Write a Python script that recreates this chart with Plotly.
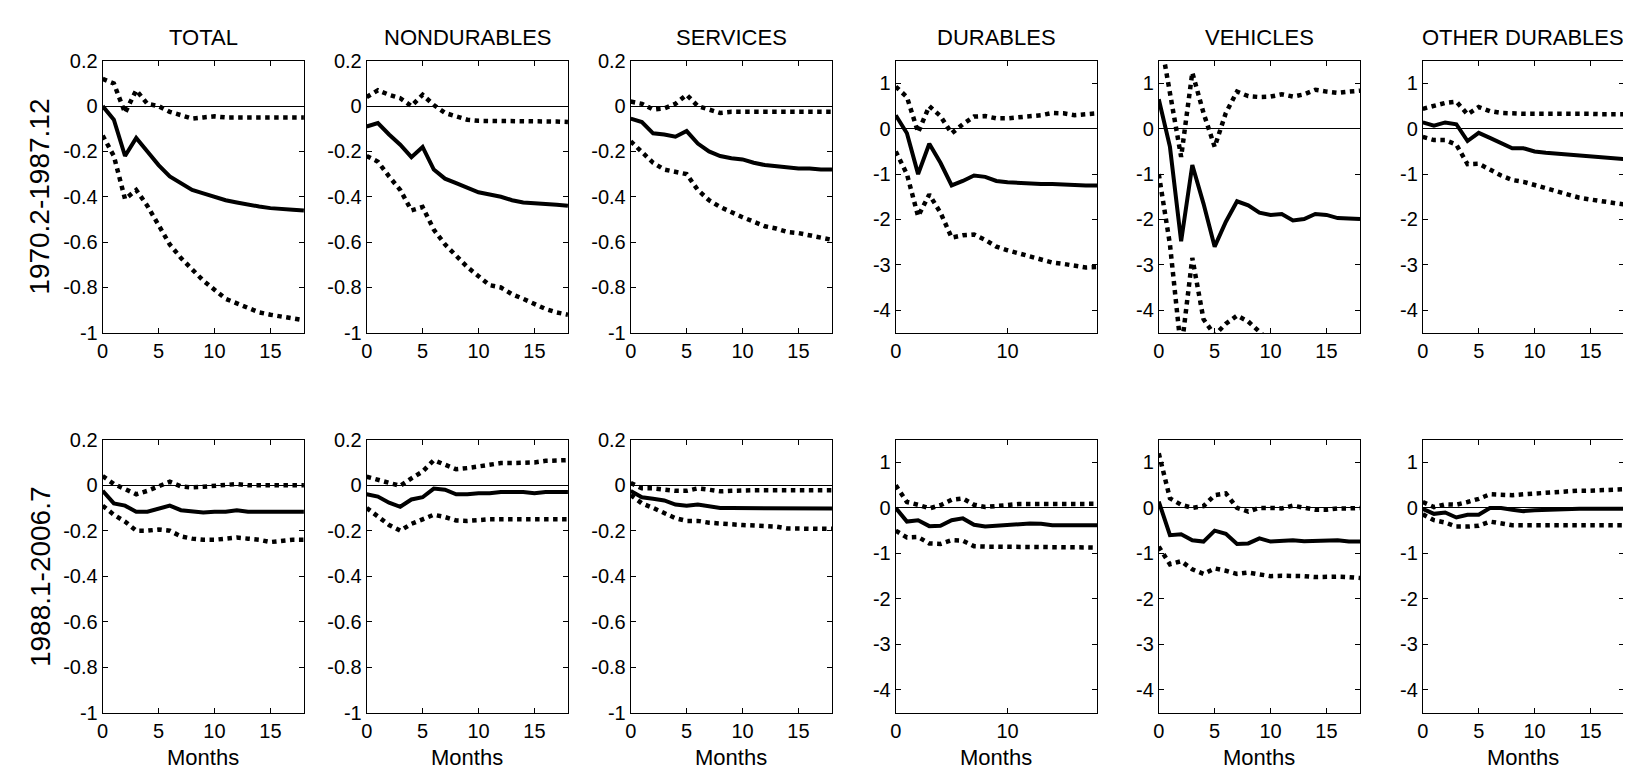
import plotly.graph_objects as go

months = [0, 1, 2, 3, 4, 5, 6, 7, 8, 9, 10, 11, 12, 13, 14, 15, 16, 17, 18]

titles = ["TOTAL", "NONDURABLES", "SERVICES", "DURABLES", "VEHICLES", "OTHER DURABLES"]
periods = ["1970.2-1987.12", "1988.1-2006.7"]

# ---- 1970.2-1987.12 ----
total_a = [0.0, -0.06, -0.22, -0.14, -0.2, -0.26, -0.31, -0.34, -0.37, -0.385, -0.4, -0.415, -0.425, -0.435, -0.443, -0.45, -0.455, -0.457, -0.46]
total_a_hi = [0.12, 0.1, -0.03, 0.07, 0.01, 0.0, -0.025, -0.04, -0.055, -0.05, -0.045, -0.05, -0.05, -0.05, -0.05, -0.05, -0.05, -0.05, -0.05]
total_a_lo = [-0.13, -0.22, -0.41, -0.37, -0.44, -0.53, -0.61, -0.67, -0.72, -0.77, -0.81, -0.85, -0.87, -0.89, -0.91, -0.92, -0.93, -0.94, -0.945]

nondur_a = [-0.09, -0.075, -0.125, -0.17, -0.225, -0.18, -0.28, -0.32, -0.34, -0.36, -0.38, -0.39, -0.4, -0.415, -0.425, -0.428, -0.43, -0.435, -0.44]
nondur_a_hi = [0.04, 0.07, 0.05, 0.035, 0.0, 0.05, 0.005, -0.03, -0.045, -0.06, -0.065, -0.065, -0.065, -0.065, -0.065, -0.065, -0.065, -0.068, -0.07]
nondur_a_lo = [-0.22, -0.245, -0.31, -0.37, -0.46, -0.445, -0.545, -0.61, -0.66, -0.71, -0.75, -0.79, -0.8, -0.83, -0.85, -0.875, -0.895, -0.91, -0.92]

serv_a = [-0.055, -0.07, -0.12, -0.125, -0.135, -0.11, -0.165, -0.2, -0.22, -0.23, -0.235, -0.25, -0.26, -0.265, -0.27, -0.275, -0.275, -0.28, -0.28]
serv_a_hi = [0.02, 0.01, -0.015, -0.01, 0.01, 0.05, 0.0, -0.015, -0.03, -0.025, -0.025, -0.025, -0.025, -0.025, -0.025, -0.025, -0.025, -0.025, -0.025]
serv_a_lo = [-0.155, -0.2, -0.25, -0.28, -0.29, -0.3, -0.37, -0.415, -0.445, -0.47, -0.49, -0.51, -0.53, -0.54, -0.555, -0.56, -0.57, -0.58, -0.59]

dur_a = [0.3, -0.1, -1.0, -0.33, -0.75, -1.25, -1.15, -1.03, -1.06, -1.15, -1.18, -1.2, -1.22, -1.22, -1.22, -1.22, -1.24, -1.25, -1.25]
dur_a_hi = [0.93, 0.7, -0.08, 0.5, 0.28, -0.1, 0.1, 0.27, 0.28, 0.23, 0.23, 0.25, 0.27, 0.3, 0.35, 0.34, 0.3, 0.32, 0.34]
dur_a_lo = [-0.5, -1.0, -1.93, -1.45, -1.85, -2.4, -2.35, -2.33, -2.45, -2.6, -2.68, -2.75, -2.82, -2.9, -2.95, -2.98, -3.02, -3.06, -3.05]

veh_a = [0.65, -0.4, -2.48, -0.8, -1.65, -2.6, -2.05, -1.6, -1.69, -1.85, -1.9, -1.88, -2.02, -1.99, -1.88, -1.9, -1.97, -1.99, -1.99]
veh_a_hi = [2.2, 0.8, -0.62, 1.24, 0.35, -0.4, 0.35, 0.82, 0.72, 0.7, 0.71, 0.76, 0.71, 0.76, 0.86, 0.82, 0.79, 0.82, 0.84]
veh_a_lo = [-1.0, -2.55, -4.9, -2.85, -4.2, -4.55, -4.3, -4.12, -4.25, -4.47, -4.7, -4.75, -4.8, -4.85, -4.9, -4.95, -5.0, -5.0, -5.05]

oth_a = [0.14, 0.07, 0.14, 0.1, -0.27, -0.09, -0.2, -0.32, -0.43, -0.43, -0.5, -0.53, -0.55, -0.58, -0.6, -0.62, -0.64, -0.64, -0.67]
oth_a_hi = [0.44, 0.5, 0.57, 0.6, 0.32, 0.48, 0.39, 0.35, 0.33, 0.33, 0.33, 0.33, 0.34, 0.35, 0.34, 0.33, 0.32, 0.32, 0.32]
oth_a_lo = [-0.18, -0.25, -0.25, -0.35, -0.78, -0.77, -0.9, -1.03, -1.13, -1.17, -1.24, -1.31, -1.38, -1.45, -1.52, -1.56, -1.6, -1.63, -1.67]

# ---- 1988.1-2006.7 ----
total_b = [-0.025, -0.08, -0.09, -0.117, -0.117, -0.105, -0.09, -0.11, -0.117, -0.12, -0.117, -0.117, -0.11, -0.117, -0.117, -0.117, -0.117, -0.117, -0.117]
total_b_hi = [0.04, 0.005, -0.017, -0.04, -0.025, -0.003, 0.015, -0.005, -0.01, -0.007, -0.003, 0.0, 0.005, 0.0, 0.0, 0.0, 0.0, 0.0, 0.0]
total_b_lo = [-0.09, -0.13, -0.16, -0.2, -0.2, -0.195, -0.2, -0.225, -0.235, -0.24, -0.24, -0.235, -0.23, -0.235, -0.24, -0.25, -0.245, -0.24, -0.24]

nondur_b = [-0.04, -0.05, -0.077, -0.095, -0.063, -0.053, -0.015, -0.02, -0.04, -0.04, -0.035, -0.035, -0.03, -0.03, -0.03, -0.035, -0.03, -0.03, -0.03]
nondur_b_hi = [0.037, 0.025, 0.008, -0.003, 0.03, 0.06, 0.11, 0.09, 0.07, 0.075, 0.083, 0.09, 0.097, 0.097, 0.097, 0.1, 0.107, 0.107, 0.11]
nondur_b_lo = [-0.1, -0.14, -0.175, -0.2, -0.17, -0.15, -0.13, -0.14, -0.155, -0.157, -0.153, -0.15, -0.15, -0.15, -0.15, -0.15, -0.15, -0.15, -0.15]

serv_b = [-0.025, -0.053, -0.06, -0.067, -0.085, -0.09, -0.085, -0.093, -0.1, -0.1, -0.1, -0.103, -0.103, -0.1, -0.103, -0.103, -0.103, -0.103, -0.103]
serv_b_hi = [0.01, -0.014, -0.014, -0.02, -0.025, -0.025, -0.014, -0.02, -0.027, -0.025, -0.022, -0.022, -0.022, -0.022, -0.022, -0.022, -0.022, -0.022, -0.022]
serv_b_lo = [-0.043, -0.08, -0.1, -0.125, -0.145, -0.157, -0.157, -0.165, -0.17, -0.172, -0.175, -0.177, -0.18, -0.182, -0.19, -0.192, -0.192, -0.192, -0.192]

dur_b = [0.0, -0.3, -0.27, -0.4, -0.39, -0.27, -0.23, -0.37, -0.41, -0.39, -0.37, -0.35, -0.34, -0.35, -0.38, -0.38, -0.38, -0.38, -0.38]
dur_b_hi = [0.5, 0.13, 0.07, -0.01, 0.06, 0.18, 0.21, 0.07, 0.02, 0.05, 0.07, 0.085, 0.085, 0.085, 0.085, 0.085, 0.09, 0.09, 0.09]
dur_b_lo = [-0.5, -0.65, -0.64, -0.78, -0.79, -0.71, -0.72, -0.84, -0.85, -0.85, -0.85, -0.85, -0.85, -0.87, -0.87, -0.87, -0.87, -0.87, -0.87]

veh_b = [0.14, -0.6, -0.58, -0.71, -0.74, -0.5, -0.57, -0.79, -0.78, -0.67, -0.74, -0.73, -0.71, -0.73, -0.73, -0.73, -0.71, -0.74, -0.74]
veh_b_hi = [1.2, 0.21, 0.07, 0.0, 0.04, 0.28, 0.32, 0.0, -0.08, 0.0, 0.0, -0.01, 0.05, 0.01, -0.04, -0.04, -0.01, -0.01, 0.0]
veh_b_lo = [-0.85, -1.24, -1.17, -1.35, -1.45, -1.33, -1.38, -1.45, -1.42, -1.45, -1.5, -1.49, -1.49, -1.5, -1.52, -1.51, -1.51, -1.52, -1.54]

oth_b = [-0.02, -0.13, -0.1, -0.21, -0.15, -0.15, 0.0, 0.0, -0.04, -0.07, -0.05, -0.04, -0.02, -0.02, -0.02, -0.02, -0.02, -0.02, -0.02]
oth_b_hi = [0.13, 0.02, 0.08, 0.07, 0.13, 0.2, 0.3, 0.28, 0.28, 0.3, 0.32, 0.34, 0.35, 0.37, 0.38, 0.38, 0.39, 0.4, 0.41]
oth_b_lo = [-0.14, -0.27, -0.32, -0.41, -0.41, -0.39, -0.3, -0.35, -0.38, -0.38, -0.38, -0.38, -0.38, -0.38, -0.38, -0.38, -0.38, -0.38, -0.38]

panels = [
    [(total_a, total_a_hi, total_a_lo), (nondur_a, nondur_a_hi, nondur_a_lo), (serv_a, serv_a_hi, serv_a_lo),
     (dur_a, dur_a_hi, dur_a_lo), (veh_a, veh_a_hi, veh_a_lo), (oth_a, oth_a_hi, oth_a_lo)],
    [(total_b, total_b_hi, total_b_lo), (nondur_b, nondur_b_hi, nondur_b_lo), (serv_b, serv_b_hi, serv_b_lo),
     (dur_b, dur_b_hi, dur_b_lo), (veh_b, veh_b_hi, veh_b_lo), (oth_b, oth_b_hi, oth_b_lo)],
]

W, H = 1631, 773
FONT = "Liberation Sans, Arial, sans-serif"
lefts = [89, 354, 619, 885, 1149, 1414]
pw = 202
rows_px = [(43, 323), (433, 714)]

fig = go.Figure()
layout = dict(width=W, height=H, margin=dict(l=0, r=0, t=0, b=0),
              paper_bgcolor="white", plot_bgcolor="white", showlegend=False,
              font=dict(family=FONT, color="black"))
annotations = []

k = 0
for r in range(2):
    top, bot = rows_px[r]
    for c in range(6):
        k += 1
        xa = "x" if k == 1 else "x%d" % k
        ya = "y" if k == 1 else "y%d" % k
        est, hi, lo = panels[r][c]
        for ser, dash in ((hi, "dot"), (lo, "dot"), (est, "solid")):
            fig.add_trace(go.Scatter(x=months, y=ser, mode="lines", xaxis=xa, yaxis=ya,
                                     line=dict(color="black", width=4.5 if dash == "dot" else 4, dash=dash),
                                     hoverinfo="skip"))
        if c < 3:
            yr = [-1, 0.2]
            ytv = [-1, -0.8, -0.6, -0.4, -0.2, 0, 0.2]
            ytt = ["-1", "-0.8", "-0.6", "-0.4", "-0.2", "0", "0.2"]
        else:
            yr = [-4.5, 1.5]
            ytv = [-4, -3, -2, -1, 0, 1]
            ytt = ["-4", "-3", "-2", "-1", "0", "1"]
        xtv = [0, 10] if c == 3 else [0, 5, 10, 15]
        axcommon = dict(showline=True, linecolor="black", linewidth=1, mirror="allticks",
                        ticks="inside", ticklen=5, tickcolor="black", tickwidth=1,
                        showgrid=False, tickfont=dict(family=FONT, size=20, color="black"))
        layout["xaxis" if k == 1 else "xaxis%d" % k] = dict(
            domain=[lefts[c] / W, (lefts[c] + pw) / W], anchor=ya, range=[0, 18],
            tickvals=xtv, ticktext=[str(v) for v in xtv], zeroline=False, **axcommon)
        layout["yaxis" if k == 1 else "yaxis%d" % k] = dict(
            domain=[1 - bot / H, 1 - top / H], anchor=xa, range=yr,
            tickvals=ytv, ticktext=ytt, zeroline=True, zerolinecolor="black", zerolinewidth=1,
            **axcommon)
        cx = (lefts[c] + pw / 2) / W
        if r == 0:
            annotations.append(dict(text=titles[c], x=cx, y=1 - 19 / H, xref="paper", yref="paper",
                                    showarrow=False, xanchor="center", yanchor="middle",
                                    font=dict(family=FONT, size=22, color="black")))
        else:
            annotations.append(dict(text="Months", x=cx, y=1 - 760 / H, xref="paper", yref="paper",
                                    showarrow=False, xanchor="center", yanchor="middle",
                                    font=dict(family=FONT, size=22, color="black")))
    annotations.append(dict(text=periods[r], x=26 / W, y=1 - (top + bot) / 2 / H, xref="paper",
                            yref="paper", showarrow=False, textangle=-90, xanchor="center",
                            yanchor="middle", font=dict(family=FONT, size=28, color="black")))

layout["annotations"] = annotations
fig.update_layout(**layout)
fig.write_html("out.html")
